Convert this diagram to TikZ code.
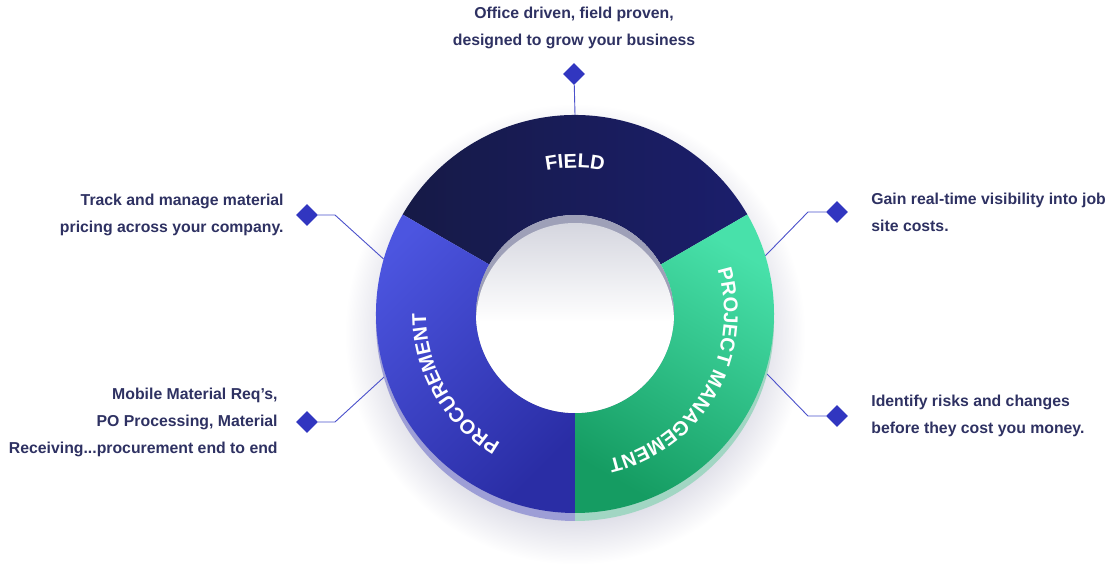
\documentclass[tikz,border=0pt]{standalone}
\usepackage{fontspec}
\setmainfont{Liberation Sans}
\usepackage{tikz}
\usetikzlibrary{
  calc,
  decorations.text,
  positioning,
  shapes.geometric,
}
\definecolor{navytext}{RGB}{46, 49, 98}
\definecolor{dotblue}{RGB}{49, 54, 192}
\definecolor{lineblue}{RGB}{75, 81, 203}
\definecolor{fielda}{RGB}{22, 26, 70}
\definecolor{fieldb}{RGB}{27, 30, 108}
\definecolor{proca}{RGB}{76, 85, 224}
\definecolor{procb}{RGB}{42, 45, 165}
\definecolor{pma}{RGB}{72, 225, 170}
\definecolor{pmb}{RGB}{21, 156, 98}
\definecolor{procrim}{RGB}{157, 158, 214}
\definecolor{pmrim}{RGB}{161, 214, 195}
\definecolor{holerim}{RGB}{158, 160, 184}
\definecolor{holeshade}{RGB}{213, 214, 223}
\definecolor{shadowgray}{RGB}{224, 224, 233}
\pgfdeclareradialshading{ringshadow}{\pgfpoint{0bp}{0bp}}{
  color(0bp)=(white); color(18bp)=(shadowgray); color(19.5bp)=(shadowgray);
  color(24bp)=(white); color(50bp)=(white)}
\tikzstyle{leader} = [
  line width=0.9pt,
  lineblue,
]
\tikzstyle{diamondtip} = [
  diamond,
  fill=dotblue,
  inner sep=0pt,
  minimum width=22pt,
  minimum height=22pt,
]
\tikzstyle{blurb} = [
  font=\bfseries\fontsize{15.8}{27}\selectfont,
  text=navytext,
  inner sep=0pt,
]
\newcommand{\segfont}{\bfseries\fontsize{20}{20}\selectfont}

\begin{document}
\begin{tikzpicture}[x=1pt, y=1pt]
  \useasboundingbox (0,0) rectangle (1118,575);
  \coordinate (c) at (575,261);

  % soft shadow under the ring
  \shade[shading=ringshadow] ($(c)+(0,-20)$) circle (240);

  % diamonds and leaders
  \node[diamondtip] (tipfield) at (574,501) {};
  \node[diamondtip] (tipprice) at (307,360) {};
  \node[diamondtip] (tipreq) at (307,153) {};
  \node[diamondtip] (tipcost) at (837,363) {};
  \node[diamondtip] (tiprisk) at (837,159) {};
  \coordinate (rimfield) at ($(c)+(90:199)$);
  \coordinate (bendprice) at (335,360);
  \coordinate (rimprice) at ($(c)+(164:199)$);
  \coordinate (bendreq) at (335,153);
  \coordinate (rimreq) at ($(c)+(198:199)$);
  \coordinate (bendcost) at (808,363);
  \coordinate (rimcost) at ($(c)+(17:199)$);
  \coordinate (bendrisk) at (808,159);
  \coordinate (rimrisk) at ($(c)+(-17:199)$);
  \draw[leader] (tipfield) -- (rimfield);
  \draw[leader] (tipprice) -- (bendprice) -- (rimprice);
  \draw[leader] (tipreq) -- (bendreq) -- (rimreq);
  \draw[leader] (tipcost) -- (bendcost) -- (rimcost);
  \draw[leader] (tiprisk) -- (bendrisk) -- (rimrisk);

  % lower rim of the ring
  \fill[procrim] ($(c)+(0,-8)$) -- ++(150:199)
    arc[start angle=150, end angle=270, radius=199] -- cycle;
  \fill[pmrim] ($(c)+(0,-8)$) -- ++(-90:199)
    arc[start angle=-90, end angle=30, radius=199] -- cycle;

  % top face of the ring
  \shade[left color=fielda, right color=fieldb]
    (c) ++(30:199) arc[start angle=30, end angle=150, radius=199]
    -- ($(c)+(150:99)$) arc[start angle=150, end angle=30, radius=99] -- cycle;
  \shade[top color=proca, bottom color=procb, shading angle=45]
    (c) ++(150:199) arc[start angle=150, end angle=270, radius=199]
    -- ($(c)+(270:99)$) arc[start angle=270, end angle=150, radius=99] -- cycle;
  \shade[top color=pma, bottom color=pmb, shading angle=-30]
    (c) ++(-90:199) arc[start angle=-90, end angle=30, radius=199]
    -- ($(c)+(30:99)$) arc[start angle=30, end angle=-90, radius=99] -- cycle;

  % hole with its inner wall
  \begin{scope}
    \clip (c) circle (99);
    \fill[holerim] (c) circle (99);
    \shade[top color=holeshade, bottom color=white, middle color=white]
      ($(c)+(0,-8)$) circle (99);
  \end{scope}

  % segment labels
  \path[decorate, decoration={text along path, text align=center,
      text color=white, text={|\segfont|FIELD}}]
    (c) ++(150:146) arc[start angle=150, end angle=30, radius=146];
  \path[decorate, decoration={text along path, text align=center,
      text color=white, text={|\segfont|PROCUREMENT}}]
    (c) ++(270:149) arc[start angle=270, end angle=150, radius=149];
  \path[decorate, decoration={text along path, text align=center,
      text color=white, text={|\segfont|PROJECT MANAGEMENT}}]
    (c) ++(30:149) arc[start angle=30, end angle=-90, radius=149];

  % callout texts
  \node[blurb, align=center, above=14pt of tipfield] (txtfield)
    {Office driven, field proven,\\designed to grow your business};
  \node[blurb, align=right, left=12pt of tipprice] (txtprice)
    {Track and manage material\\pricing across your company.};
  \node[blurb, align=right, left=18pt of tipreq] (txtreq)
    {Mobile Material Req’s,\\PO Processing, Material\\Receiving...procurement end to end};
  \node[blurb, align=left, right=23pt of tipcost] (txtcost)
    {Gain real-time visibility into job\\site costs.};
  \node[blurb, align=left, right=23pt of tiprisk] (txtrisk)
    {Identify risks and changes\\before they cost you money.};
\end{tikzpicture}
\end{document}
